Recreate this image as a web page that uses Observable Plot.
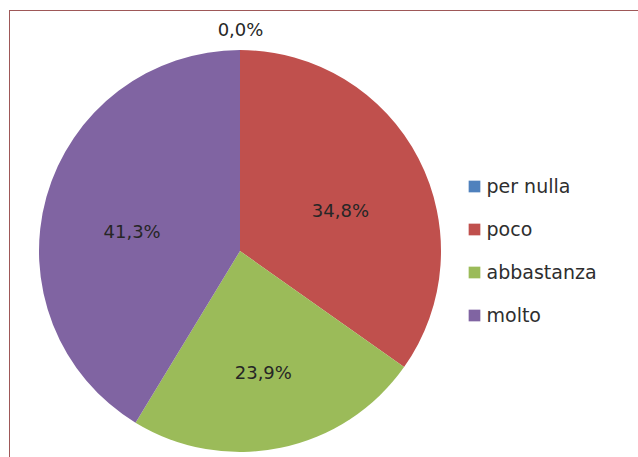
<!DOCTYPE html>
<html>
<head>
<meta charset="utf-8">
<script src="https://cdn.jsdelivr.net/npm/d3@7"></script>
<script src="https://cdn.jsdelivr.net/npm/@observablehq/plot@0.6"></script>
<style>
  html, body { margin: 0; padding: 0; background: #fff; }
  #wrap { position: relative; width: 638px; height: 457px; overflow: hidden; background: #fff; }
  #frame { position: absolute; left: 9px; top: 10px; width: 700px; height: 600px;
           border-left: 1.5px solid #9e5858; border-top: 1.5px solid #9e5858; }
  #pie { position: absolute; left: 0; top: 0; }
  #legend { position: absolute; left: 460px; top: 163px; }
  svg { overflow: visible; }
</style>
</head>
<body>
<div id="wrap"><div id="frame"></div><div id="pie"></div><div id="legend"></div></div>
<script>
const categories = ["per nulla", "poco", "abbastanza", "molto"];
const percentages = [0.0, 34.8, 23.9, 41.3];
const pieLabels = ["0,0%", "34,8%", "23,9%", "41,3%"];
const colors = ["#4F81BD", "#C0504D", "#9BBB59", "#8064A2"];

const colorScale = Plot.scale({color: {type: "ordinal", domain: categories, range: colors}});

const arcs = d3.pie().sort(null).value(d => d)(percentages);
const slices = categories.map((c, i) => ({
  category: c,
  startAngle: arcs[i].startAngle,
  endAngle: arcs[i].endAngle,
  label: pieLabels[i],
  value: percentages[i]
}));
const labelRows = slices.map(s => {
  const mid = (s.startAngle + s.endAngle) / 2;
  const rr = s.value === 0 ? 1.1 : 0.56;
  const off = s.value === 0 ? 0 : -0.055;
  return {label: s.label, lx: rr * Math.sin(mid), ly: rr * Math.cos(mid) + off};
});

function pieMark(index, scales, values, dimensions) {
  const cx = scales.x(0), cy = scales.y(0);
  const r = Math.abs(scales.x(1) - scales.x(0));
  const g = d3.create("svg:g");
  const arc = d3.arc().innerRadius(0).outerRadius(r);
  g.selectAll("path").data(slices).join("path")
    .attr("transform", `translate(${cx},${cy})`)
    .attr("d", d => arc(d))
    .attr("fill", d => colorScale.apply(d.category));
  return g.node();
}

const pie = Plot.plot({
  width: 638,
  height: 457,
  margin: 0,
  x: {domain: [-1, 1], range: [39, 441], axis: null},
  y: {domain: [-1, 1], range: [452, 50], axis: null},
  marks: [
    pieMark,
    Plot.text(labelRows, {x: "lx", y: "ly", text: "label", fontSize: 18,
      fontFamily: "DejaVu Sans", fill: "#262626"})
  ]
});
document.getElementById("pie").appendChild(pie);

const legend = Plot.plot({
  width: 170,
  height: 174,
  marginTop: 22,
  marginBottom: 22,
  marginLeft: 0,
  marginRight: 0,
  y: {type: "point", domain: categories, padding: 0, axis: null},
  color: {domain: categories, range: colors},
  marks: [
    Plot.dot(categories, {y: d => d, frameAnchor: "left", dx: 14, symbol: "square",
      r: 6.6, fill: d => d, stroke: null}),
    Plot.text(categories, {y: d => d, frameAnchor: "left", dx: 26, text: d => d,
      textAnchor: "start", fontSize: 19, fontFamily: "DejaVu Sans", fill: "#2e2e2e"})
  ]
});
document.getElementById("legend").appendChild(legend);
</script>
</body>
</html>
